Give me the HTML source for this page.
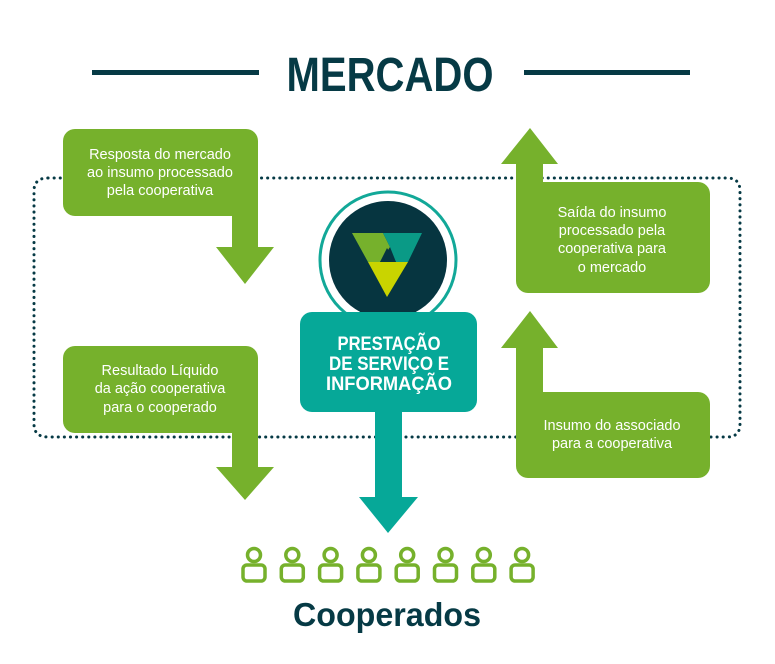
<!DOCTYPE html>
<html><head><meta charset="utf-8"><style>
html,body{margin:0;padding:0;background:#fff;}
svg{display:block;}
text{font-family:"Liberation Sans",sans-serif;}
</style></head><body>
<svg width="775" height="664" viewBox="0 0 775 664" xmlns="http://www.w3.org/2000/svg">
<!-- title -->
<rect x="92" y="70" width="167" height="5" fill="#063a45"/>
<rect x="524" y="70" width="166" height="5" fill="#063a45"/>
<text x="390" y="91" font-size="48" font-weight="bold" fill="#063a45" text-anchor="middle" textLength="207" lengthAdjust="spacingAndGlyphs">MERCADO</text>

<!-- dotted loop -->
<path d="M48 178 H727 Q740 178 740 191 V424 Q740 437 727 437 H48 Q34 437 34 424 V191 Q34 178 48 178 Z" fill="none" stroke="#063a45" stroke-width="3" stroke-dasharray="0.1 6" stroke-linecap="round"/>

<g fill="#76b12c">
<rect x="63" y="129" width="195" height="87" rx="12"/>
<rect x="232" y="200" width="26" height="50"/>
<polygon points="216,247 274,247 245,284"/>
<rect x="63" y="346" width="195" height="87" rx="12"/>
<rect x="232" y="420" width="26" height="50"/>
<polygon points="216,467 274,467 245,500"/>
<polygon points="501,164 530,128 558,164"/>
<rect x="516" y="160" width="27" height="40"/>
<rect x="516" y="182" width="194" height="111" rx="12"/>
<rect x="516" y="182" width="30" height="30"/>
<polygon points="501,348 530,311 558,348"/>
<rect x="516" y="345" width="27" height="60"/>
<rect x="516" y="392" width="194" height="86" rx="12"/>
<rect x="516" y="392" width="30" height="30"/>
</g>

<g fill="#fff" font-size="14.5" text-anchor="middle">
<text x="160" y="159">Resposta do mercado</text>
<text x="160" y="177">ao insumo processado</text>
<text x="160" y="195">pela cooperativa</text>
<text x="160" y="375">Resultado Líquido</text>
<text x="160" y="393">da ação cooperativa</text>
<text x="160" y="412">para o cooperado</text>
<text x="612" y="217">Saída do insumo</text>
<text x="612" y="235">processado pela</text>
<text x="612" y="253">cooperativa para</text>
<text x="612" y="272">o mercado</text>
<text x="612" y="430">Insumo do associado</text>
<text x="612" y="448">para a cooperativa</text>
</g>

<!-- center -->
<circle cx="388" cy="260" r="68" fill="#fff" stroke="#12a898" stroke-width="3"/>
<circle cx="388" cy="260" r="59" fill="#063540"/>
<polygon points="352,233 383,233 390,247 380,262 368,262" fill="#76b12c"/>
<polygon points="383,233 422,233 408,262 396,262 390,247" fill="#0a9a86"/>
<polygon points="387,248 380,262 396,262" fill="#063540"/>
<polygon points="368,262 408,262 387,297" fill="#c9d400"/>
<rect x="300" y="312" width="177" height="100" rx="12" fill="#06a898"/>
<rect x="375" y="405" width="27" height="95" fill="#06a898"/>
<polygon points="359,497 418,497 388,533" fill="#06a898"/>
<g fill="#fff" font-size="19" font-weight="bold" text-anchor="middle">
<text x="389" y="350" textLength="103" lengthAdjust="spacingAndGlyphs">PRESTAÇÃO</text>
<text x="389" y="370" textLength="120" lengthAdjust="spacingAndGlyphs">DE SERVIÇO E</text>
<text x="389" y="390" textLength="126" lengthAdjust="spacingAndGlyphs">INFORMAÇÃO</text>
</g>

<!-- people -->
<g fill="none" stroke="#76b12c" stroke-width="3.5">
<g id="p"><circle cx="254" cy="555" r="6.5"/><rect x="243" y="565" width="22" height="16" rx="4"/></g>
<use href="#p" x="38.3"/><use href="#p" x="76.6"/><use href="#p" x="114.9"/><use href="#p" x="153.2"/><use href="#p" x="191.5"/><use href="#p" x="229.8"/><use href="#p" x="268.1"/>
</g>
<text x="387" y="626" font-size="33" font-weight="bold" fill="#063a45" text-anchor="middle" textLength="188" lengthAdjust="spacingAndGlyphs">Cooperados</text>
</svg>
</body></html>
